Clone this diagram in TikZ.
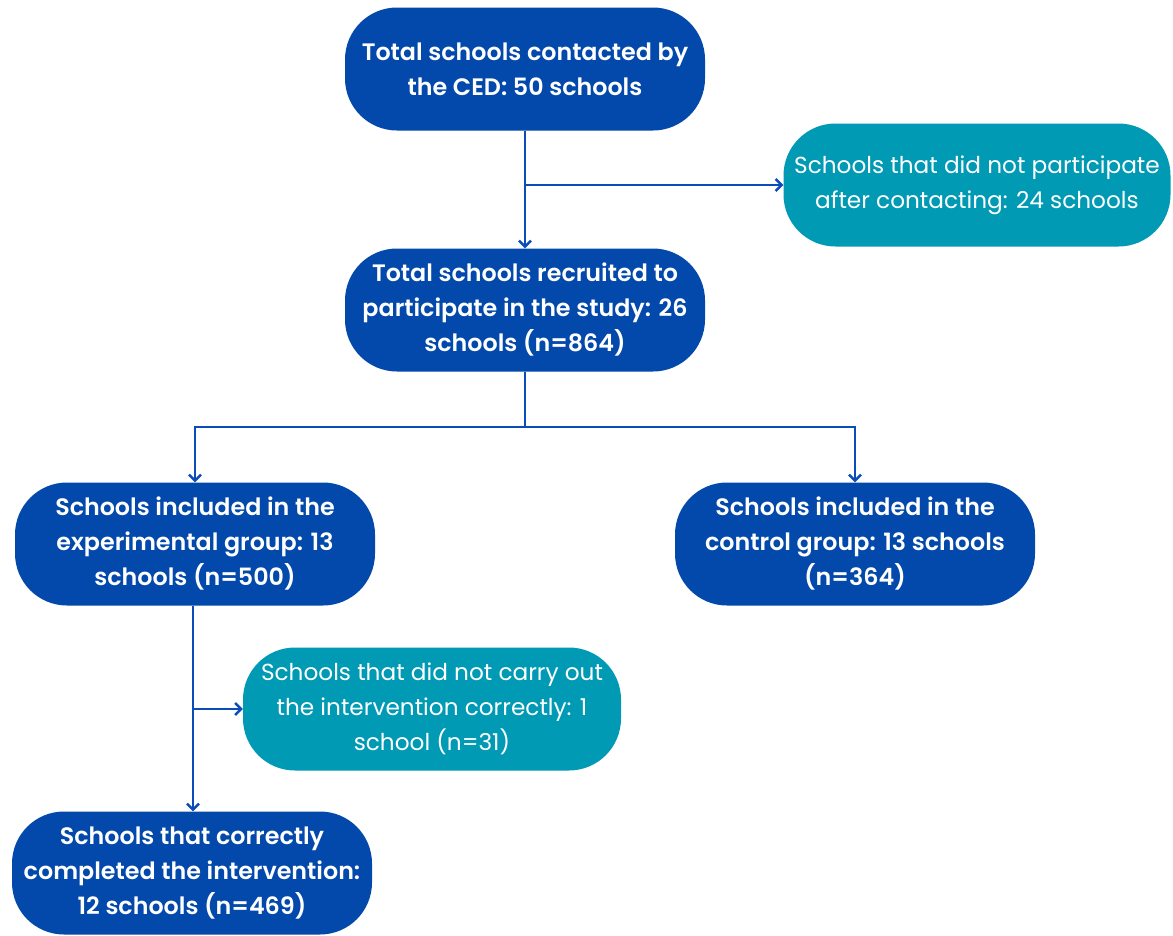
\documentclass[tikz,border=0pt]{standalone}
\usepackage{fontspec}
\setmainfont{Poppins}[BoldFont={Poppins SemiBold}]
\usetikzlibrary{arrows.meta}
\definecolor{boxblue}{HTML}{0349AB}
\definecolor{boxteal}{HTML}{009AB4}
\definecolor{lineblue}{HTML}{0B4DB8}
\begin{document}
\begin{tikzpicture}[x=1pt,y=-1pt,
  bluebox/.style={fill=boxblue,draw=none,rounded corners=52pt,text=white,align=center,
    minimum width=360pt,minimum height=123pt,inner sep=0pt,
    font=\fontsize{23.8}{35}\selectfont\bfseries},
  tealbox/.style={fill=boxteal,draw=none,rounded corners=52pt,text=white,align=center,
    minimum height=123pt,inner sep=0pt,
    font=\fontsize{23.2}{35}\selectfont},
  conn/.style={draw=lineblue,line width=2.8pt},
  arr/.style={conn,-{Straight Barb[length=6pt,width=12pt,line width=2.5pt]}}]
\useasboundingbox (0,0) rectangle (1173,935);
\node[bluebox] (top) at (525,69) {Total schools contacted by\\the CED: 50 schools};
\node[tealbox,minimum width=387pt] (nop) at (977,185) {Schools that did not participate\\after contacting: 24 schools};
\node[bluebox] (rec) at (525,310) {Total schools recruited to\\participate in the study: 26\\schools (n=864)};
\node[bluebox] (exp) at (195,544) {Schools included in the\\experimental group: 13\\schools (n=500)};
\node[bluebox] (ctl) at (855,544) {Schools included in the\\control group: 13 schools\\(n=364)};
\node[tealbox,minimum width=378pt] (bad) at (432,709) {Schools that did not carry out\\the intervention correctly: 1\\school (n=31)};
\node[bluebox] (fin) at (192,873) {Schools that correctly\\completed the intervention:\\12 schools (n=469)};
\coordinate (j1) at (525,185);
\coordinate (j2) at (525,427);
\coordinate (j3) at (193,709);
\draw[arr] (top.south) -- (rec.north);
\draw[arr] (j1) -- (nop.west);
\draw[conn] (rec.south) -- (j2);
\draw[arr] (j2) -| (exp.north);
\draw[arr] (j2) -| (ctl.north);
\draw[arr] (exp.south -| j3) -- (fin.north -| j3);
\draw[arr] (j3) -- (bad.west);
\end{tikzpicture}
\end{document}
